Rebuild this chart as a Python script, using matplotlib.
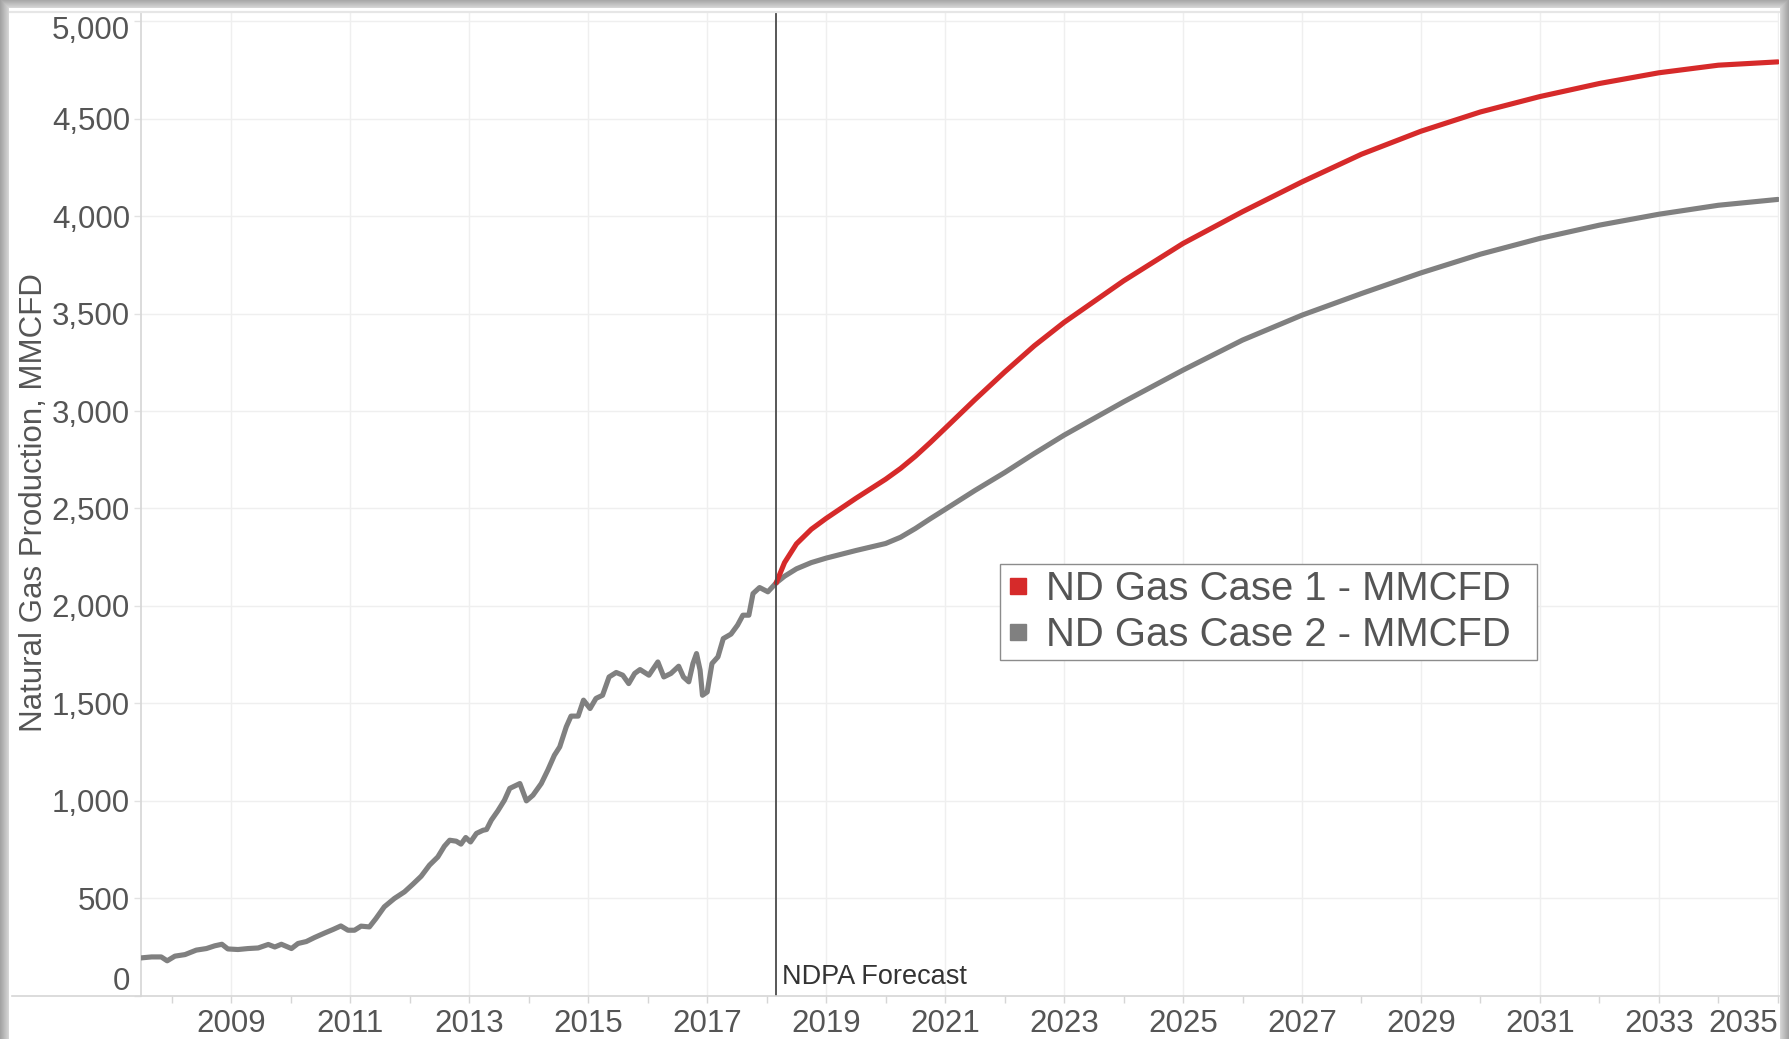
import matplotlib
matplotlib.use("Agg")
import matplotlib.pyplot as plt
import matplotlib.transforms as mtransforms
from matplotlib.lines import Line2D
from matplotlib.ticker import FuncFormatter
import numpy as np

FIG_W, FIG_H, DPI = 1789, 1039, 100
TEXT_COLOR = "#555555"
GRID_COLOR = "#efefef"
RED = "#d62a2a"
GRAY = "#808080"

# Monthly history (decimal year, MMCFD)
hist_year = [2007.48, 2007.66, 2007.82, 2007.92, 2008.05, 2008.22, 2008.41, 2008.58,
             2008.72, 2008.84, 2008.94, 2009.11, 2009.28, 2009.45, 2009.62, 2009.73,
             2009.84, 2010.01, 2010.12, 2010.26, 2010.40, 2010.57, 2010.71, 2010.84,
             2010.96, 2011.07, 2011.18, 2011.32, 2011.43, 2011.57, 2011.74, 2011.91,
             2012.05, 2012.19, 2012.33, 2012.47, 2012.58, 2012.67, 2012.78, 2012.86,
             2012.94, 2013.02, 2013.12, 2013.23, 2013.29, 2013.37, 2013.48, 2013.59,
             2013.68, 2013.85, 2013.96, 2014.07, 2014.21, 2014.32, 2014.43, 2014.52,
             2014.63, 2014.71, 2014.83, 2014.92, 2015.03, 2015.13, 2015.24, 2015.35,
             2015.47, 2015.58, 2015.68, 2015.78, 2015.87, 2016.02, 2016.17, 2016.27,
             2016.39, 2016.52, 2016.60, 2016.69, 2016.76, 2016.82, 2016.88, 2016.92,
             2017.00, 2017.08, 2017.18, 2017.27, 2017.40, 2017.51, 2017.60, 2017.70,
             2017.77, 2017.88, 2018.02, 2018.16]
hist_gas = [193, 198, 198, 178, 202, 210, 233, 241,
            255, 263, 239, 236, 241, 244, 262, 249,
            263, 241, 267, 277, 298, 321, 339, 357,
            335, 335, 356, 352, 395, 455, 498, 532,
            571, 612, 669, 711, 766, 797, 792, 777,
            811, 788, 832, 848, 852, 900, 948, 1002,
            1063, 1088, 999, 1028, 1088, 1157, 1233, 1276,
            1379, 1434, 1434, 1516, 1473, 1525, 1541, 1635,
            1658, 1644, 1601, 1653, 1673, 1644, 1712, 1635,
            1653, 1690, 1635, 1610, 1704, 1755, 1670, 1541,
            1558, 1704, 1738, 1832, 1855, 1901, 1952, 1952,
            2063, 2094, 2072, 2118]

# Forecast cases
fc_year = [2018.16, 2018.3, 2018.5, 2018.75, 2019.0, 2019.5, 2020.0, 2020.25,
           2020.5, 2020.75, 2021.0, 2021.5, 2022.0, 2022.5, 2023, 2024, 2025,
           2026, 2027, 2028, 2029, 2030, 2031, 2032, 2033, 2034, 2035]
case1 = [2118, 2222, 2318, 2393, 2449, 2552, 2650, 2705,
         2768, 2838, 2911, 3058, 3200, 3335, 3455, 3668, 3860,
         4023, 4176, 4318, 4436, 4535, 4614, 4681, 4736, 4775, 4792]
case2 = [2118, 2152, 2190, 2222, 2245, 2284, 2320, 2352,
         2397, 2447, 2495, 2592, 2684, 2782, 2876, 3047, 3210,
         3364, 3492, 3603, 3709, 3805, 3886, 3954, 4010, 4056, 4086]

forecast_start = 2018.16
legend_labels = ["ND Gas Case 1 - MMCFD", "ND Gas Case 2 - MMCFD"]
x_major = list(range(2009, 2036, 2))
x_minor = list(range(2008, 2035, 2))
y_ticks = list(range(0, 5001, 500))

plt.rcParams["font.family"] = ["Liberation Sans", "DejaVu Sans"]


def add_shadow_frame(fig):
    """Grey drop-shadow band round the white content area."""
    left, top, right = 9, 8, 1780
    img = np.zeros((FIG_H, FIG_W, 4))
    cols = np.arange(FIG_W)
    rows = np.arange(FIG_H)
    dx = np.maximum(left - cols, cols - right + 1).clip(min=0)
    dy = (top - rows).clip(min=0)
    d = np.maximum(dx[None, :], dy[:, None]).astype(float)
    mask = d > 0
    level = 0.86 - 0.22 * (d / 9.0).clip(max=1)
    img[..., 0] = level
    img[..., 1] = level
    img[..., 2] = level
    img[..., 3] = mask.astype(float)
    fig.figimage(img, xo=0, yo=0, origin="upper", zorder=5)


def make_chart():
    fig = plt.figure(figsize=(FIG_W / DPI, FIG_H / DPI), dpi=DPI)
    fig.patch.set_facecolor("white")
    ax = fig.add_axes([141 / FIG_W, 43.5 / FIG_H, 1638 / FIG_W, 983.5 / FIG_H])

    ax.plot(hist_year, hist_gas, color=GRAY, lw=3.7, solid_joinstyle="round",
            solid_capstyle="round", zorder=3)
    ax.plot(fc_year, case2, color=GRAY, lw=3.7, solid_joinstyle="round",
            solid_capstyle="round", zorder=3)
    ax.plot(fc_year, case1, color=RED, lw=3.7, solid_joinstyle="round",
            solid_capstyle="round", zorder=4)

    ax.axvline(forecast_start, color="#4a4a4a", lw=1.3, zorder=5)
    ax.annotate("NDPA Forecast", xy=(forecast_start, 0), xytext=(4, 4),
                textcoords="offset points", ha="left", va="bottom",
                fontsize=19.5, color="#333333")

    ax.set_xlim(2007.48, 2035.02)
    ax.set_ylim(0, 5048)
    ax.set_xticks(x_major)
    ax.set_xticks(x_minor, minor=True)
    ax.set_yticks(y_ticks)
    ax.yaxis.set_major_formatter(FuncFormatter(lambda v, p: f"{v:,.0f}"))

    ax.grid(True, which="major", color=GRID_COLOR, lw=1.0, zorder=0)
    ax.set_axisbelow(True)
    for side in ("top", "right", "bottom"):
        ax.spines[side].set_visible(False)
    ax.spines["left"].set_color("#d6d6d6")
    ax.spines["left"].set_linewidth(1.2)

    ax.tick_params(axis="x", which="both", length=5, width=1, color="#d6d6d6",
                   labelsize=22.5, labelcolor=TEXT_COLOR, pad=5)
    ax.tick_params(axis="y", length=5, width=1, color="#e2e2e2",
                   labelsize=22.5, labelcolor=TEXT_COLOR, pad=3)

    # Tableau-style edge labels pulled inside the pane
    px = fig.dpi_scale_trans
    ylabels = ax.get_yticklabels()
    ylabels[0].set_transform(ylabels[0].get_transform()
                             + mtransforms.ScaledTranslation(0, 17 / DPI, px))
    ylabels[-1].set_transform(ylabels[-1].get_transform()
                              + mtransforms.ScaledTranslation(0, -6 / DPI, px))
    ax.get_xticklabels()[-1].set_horizontalalignment("right")

    fig.text(34 / FIG_W, 1 - 503 / FIG_H, "Natural Gas Production, MMCFD",
             rotation=90, ha="center", va="center", fontsize=22.5, color=TEXT_COLOR)

    handles = [Line2D([], [], marker="s", linestyle="none", color=c, markersize=11.5)
               for c in (RED, GRAY)]
    leg = ax.legend(handles, legend_labels, loc="upper left", mode="expand",
                    bbox_to_anchor=(0.5244, 0.343, 0.3276, 0.096), borderaxespad=0,
                    fontsize=28.8, labelcolor=TEXT_COLOR, frameon=True,
                    fancybox=False, framealpha=1, edgecolor="#8c8c8c",
                    handlelength=0.6, handletextpad=0.4, labelspacing=0.2,
                    borderpad=0.15)
    leg.get_frame().set_linewidth(1.0)

    # pane borders spanning the full content width
    fig.add_artist(Line2D([12 / FIG_W, 1779 / FIG_W], [1 - 995.5 / FIG_H] * 2,
                          transform=fig.transFigure, color="#d6d6d6", lw=1.2))
    fig.add_artist(Line2D([10 / FIG_W, 1780 / FIG_W], [1 - 12 / FIG_H] * 2,
                          transform=fig.transFigure, color="#e6e6e6", lw=1.6))

    add_shadow_frame(fig)
    fig.savefig("out.png", dpi=DPI)


if __name__ == "__main__":
    make_chart()
